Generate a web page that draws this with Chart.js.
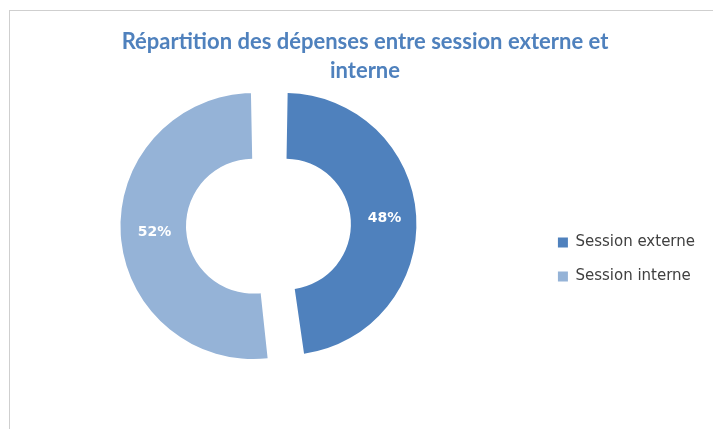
<!DOCTYPE html>
<html lang="fr">
<head>
<meta charset="utf-8">
<title>Répartition des dépenses</title>
<script src="https://cdn.jsdelivr.net/npm/chart.js@4"></script>
<style>
    html, body { margin: 0; padding: 0; background: #fff; overflow: hidden; }
    /* cadre gris du graphique (seuls les bords haut et gauche sont visibles) */
    #cadre {
        position: absolute; left: 9px; top: 10px; width: 800px; height: 500px;
        border-left: 1px solid #cfcfcf; border-top: 1px solid #cfcfcf;
    }
    /* le canevas dépasse un peu à droite pour centrer le titre comme l'original */
    #graphique { position: absolute; left: 0; top: 0; }
</style>
</head>
<body>
<div id="cadre"></div>
<canvas id="graphique" width="730" height="429"></canvas>

<script>
// ----------------------------------------------------------
// DONNÉES
// ----------------------------------------------------------
const categories = ['Session externe', 'Session interne'];
const valeurs    = [48, 52];
const couleurs   = ['#4f81bd', '#95b3d7'];
const titre      = ['Répartition des dépenses entre session externe et', 'interne'];


// ----------------------------------------------------------
// Pourcentages en blanc au milieu de chaque part
// (la part est décalée de offset/4 et ses rayons grandissent d'autant)
// ----------------------------------------------------------
const etiquettesPct = {
    id: 'etiquettesPct',
    afterDatasetsDraw(chart) {
        const ctx = chart.ctx;
        const total = valeurs.reduce((a, b) => a + b, 0);
        ctx.save();
        ctx.font = 'bold 14px "DejaVu Sans"';
        ctx.fillStyle = '#ffffff';
        ctx.textAlign = 'center';
        ctx.textBaseline = 'middle';
        chart.getDatasetMeta(0).data.forEach((arc, i) => {
            const p = arc.getProps(['x', 'y', 'startAngle', 'endAngle', 'innerRadius', 'outerRadius']);
            const angle = (p.startAngle + p.endAngle) / 2;
            const r = (p.innerRadius + p.outerRadius) / 2 + 31;
            const texte = Math.round(valeurs[i] / total * 100) + '%';
            ctx.fillText(texte, p.x + Math.cos(angle) * r, p.y + Math.sin(angle) * r);
        });
        ctx.restore();
    }
};


// ----------------------------------------------------------
// GRAPHIQUE : anneau éclaté, légende à droite
// ----------------------------------------------------------
new Chart(document.getElementById('graphique'), {
    type: 'doughnut',
    data: {
        labels: categories,
        datasets: [{
            data: valeurs,
            backgroundColor: couleurs,
            borderWidth: 0,
            offset: 64,
            hoverOffset: 0
        }]
    },
    options: {
        responsive: false,
        animation: false,
        radius: 117,
        cutout: '44%',
        layout: { padding: { left: 0, right: 0, top: 0, bottom: 72 } },
        plugins: {
            title: {
                display: true,
                text: titre,
                color: '#4f81bd',
                font: { family: 'Lato', size: 22, weight: 'bold', lineHeight: 1.3 },
                padding: { top: 28, bottom: 8 }
            },
            // espace vide à droite de la légende (sert seulement à la mise en page)
            subtitle: {
                display: true,
                position: 'right',
                fullSize: false,
                text: ' ',
                font: { size: 25, lineHeight: 1 },
                padding: 0
            },
            legend: {
                position: 'right',
                align: 'start',
                // titre vide : descend les entrées de la légende
                // (la légende occupe toute la hauteur, depuis le haut du canevas)
                title: {
                    display: true,
                    text: ' ',
                    font: { size: 10, lineHeight: 1 },
                    padding: { top: 0, bottom: 206 }
                },
                labels: {
                    boxWidth: 10,
                    boxHeight: 10,
                    padding: 19,
                    color: '#404040',
                    font: { family: 'DejaVu Sans', size: 15 }
                }
            },
            tooltip: { enabled: false }
        }
    },
    plugins: [etiquettesPct]
});
</script>
</body>
</html>
